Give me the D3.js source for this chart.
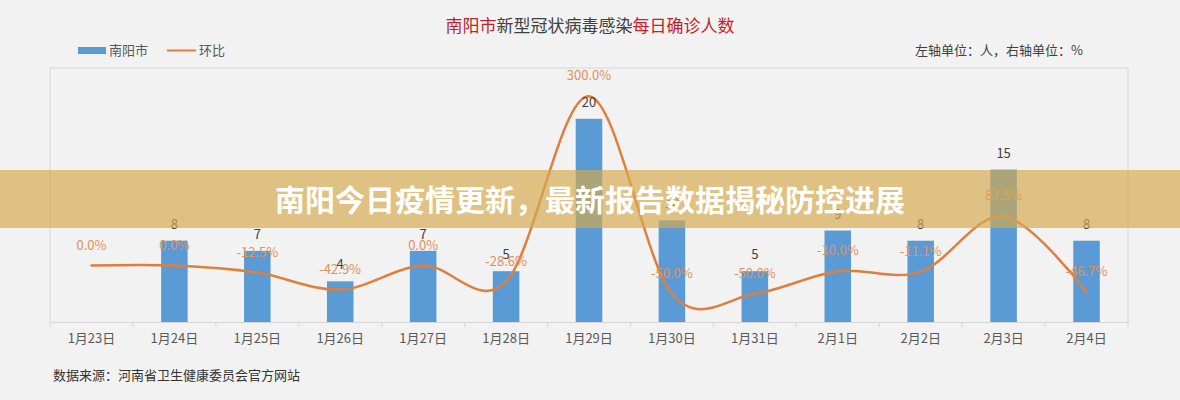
<!DOCTYPE html>
<html><head><meta charset="utf-8">
<script src="https://cdn.jsdelivr.net/npm/d3@7"></script>
<style>
html,body{margin:0;padding:0;background:#f2f2f2;}
svg{display:block;font-family:"Noto Sans CJK SC","Noto Sans",sans-serif;}
</style></head>
<body>
<svg id="chart" width="1180" height="400"></svg>
<script>
const categories = ["1月23日","1月24日","1月25日","1月26日","1月27日","1月28日","1月29日","1月30日","1月31日","2月1日","2月2日","2月3日","2月4日"];
const cases = [null, 8, 7, 4, 7, 5, 20, 10, 5, 9, 8, 15, 8];
const ratio = [0.0, 0.0, -12.5, -42.9, 0.0, -28.6, 300.0, -50.0, -50.0, -10.0, -11.1, 87.5, -46.7];
const leftDomain = [0, 25];
const rightDomain = [-100, 350];
const titleParts = [["南阳市","#b8262b"],["新型冠状病毒感染","#404040"],["每日确诊人数","#c8202a"]];
const legendLabels = ["南阳市","环比"];
const unitText = "左轴单位：人，右轴单位：%";
const sourceText = "数据来源：河南省卫生健康委员会官方网站";
const bannerText = "南阳今日疫情更新，最新报告数据揭秘防控进展";

const svg = d3.select("#chart");
const W = 1180, H = 400;
const plot = {left: 50, right: 1128, top: 68, bottom: 322};
const blue = "#5b9bd5", orange = "#e07f3c", labelOrange = "#e0915a", grid = "#d6d6d6";

svg.append("rect").attr("width", W).attr("height", H).attr("fill", "#f2f2f2");

const x = d3.scaleBand().domain(categories).range([plot.left, plot.right]).padding(0);
const yL = d3.scaleLinear().domain(leftDomain).range([plot.bottom, plot.top]);
const yR = d3.scaleLinear().domain(rightDomain).range([plot.bottom, plot.top]);
const bw = x.bandwidth();
const cx = c => x(c) + bw / 2;

// plot frame
svg.append("line").attr("x1", plot.left).attr("x2", plot.right).attr("y1", plot.top).attr("y2", plot.top).attr("stroke", grid);
svg.append("line").attr("x1", plot.left).attr("x2", plot.left).attr("y1", plot.top).attr("y2", plot.bottom).attr("stroke", grid);
svg.append("line").attr("x1", plot.right).attr("x2", plot.right).attr("y1", plot.top).attr("y2", plot.bottom).attr("stroke", grid);

// x axis
const xAxis = d3.axisBottom(x).tickSize(0).tickPadding(12);
const gx = svg.append("g").attr("transform", `translate(0,${plot.bottom})`).call(xAxis);
gx.select(".domain").attr("stroke", grid);
gx.selectAll("text").attr("fill", "#595959").attr("font-size", 13).attr("font-family", '"Noto Sans CJK SC",sans-serif');
// boundary ticks
const bounds = categories.map(c => x(c)).concat([plot.right]);
svg.append("g").selectAll("line").data(bounds).join("line")
  .attr("x1", d => d).attr("x2", d => d).attr("y1", plot.bottom).attr("y2", plot.bottom + 5).attr("stroke", grid);

// bars
const barW = bw * 0.32;
const barData = categories.map((c, i) => ({c, v: cases[i]})).filter(d => d.v != null);
svg.append("g").selectAll("rect").data(barData).join("rect")
  .attr("x", d => cx(d.c) - barW / 2).attr("width", barW)
  .attr("y", d => yL(d.v)).attr("height", d => yL(0) - yL(d.v))
  .attr("fill", blue);

// line
const lineData = categories.map((c, i) => ({c, v: ratio[i]}));
const line = d3.line().x(d => cx(d.c)).y(d => yR(d.v)).curve(d3.curveCardinal.tension(0));
svg.append("path").datum(lineData).attr("d", line).attr("fill", "none")
  .attr("stroke", orange).attr("stroke-width", 2.5).attr("stroke-linecap", "round");

// bar labels
svg.append("g").selectAll("text").data(barData).join("text")
  .attr("x", d => cx(d.c)).attr("y", d => yL(d.v) - 12)
  .attr("text-anchor", "middle").attr("font-size", 13).attr("fill", "#404040")
  .text(d => d.v);

// line labels
svg.append("g").selectAll("text").data(lineData).join("text")
  .attr("x", d => cx(d.c)).attr("y", d => yR(d.v) - 16)
  .attr("text-anchor", "middle").attr("font-size", 13).attr("fill", labelOrange)
  .text(d => d.v.toFixed(1) + "%");

// title
const title = svg.append("text").attr("x", W / 2).attr("y", 32).attr("text-anchor", "middle").attr("font-size", 17);
titleParts.forEach(([t, col]) => title.append("tspan").attr("fill", col).text(t));

// legend
svg.append("rect").attr("x", 78).attr("y", 47).attr("width", 28).attr("height", 7).attr("fill", blue);
svg.append("text").attr("x", 109).attr("y", 55).attr("font-size", 13).attr("fill", "#595959").text(legendLabels[0]);
svg.append("line").attr("x1", 167).attr("x2", 196).attr("y1", 50.5).attr("y2", 50.5).attr("stroke", orange).attr("stroke-width", 2);
svg.append("text").attr("x", 199).attr("y", 55).attr("font-size", 13).attr("fill", "#595959").text(legendLabels[1]);

// units
svg.append("text").attr("x", 1083).attr("y", 55).attr("text-anchor", "end").attr("font-size", 13).attr("fill", "#404040").text(unitText);

// source
svg.append("text").attr("x", 53).attr("y", 380).attr("font-size", 13).attr("fill", "#333").text(sourceText);

// banner overlay
svg.append("rect").attr("x", 0).attr("y", 170).attr("width", W).attr("height", 58).attr("fill", "rgba(212,170,78,0.68)");
svg.append("text").attr("x", W / 2).attr("y", 211).attr("text-anchor", "middle")
  .attr("font-size", 30).attr("font-weight", "bold").attr("fill", "#ffffff").text(bannerText);
</script>
</body></html>
